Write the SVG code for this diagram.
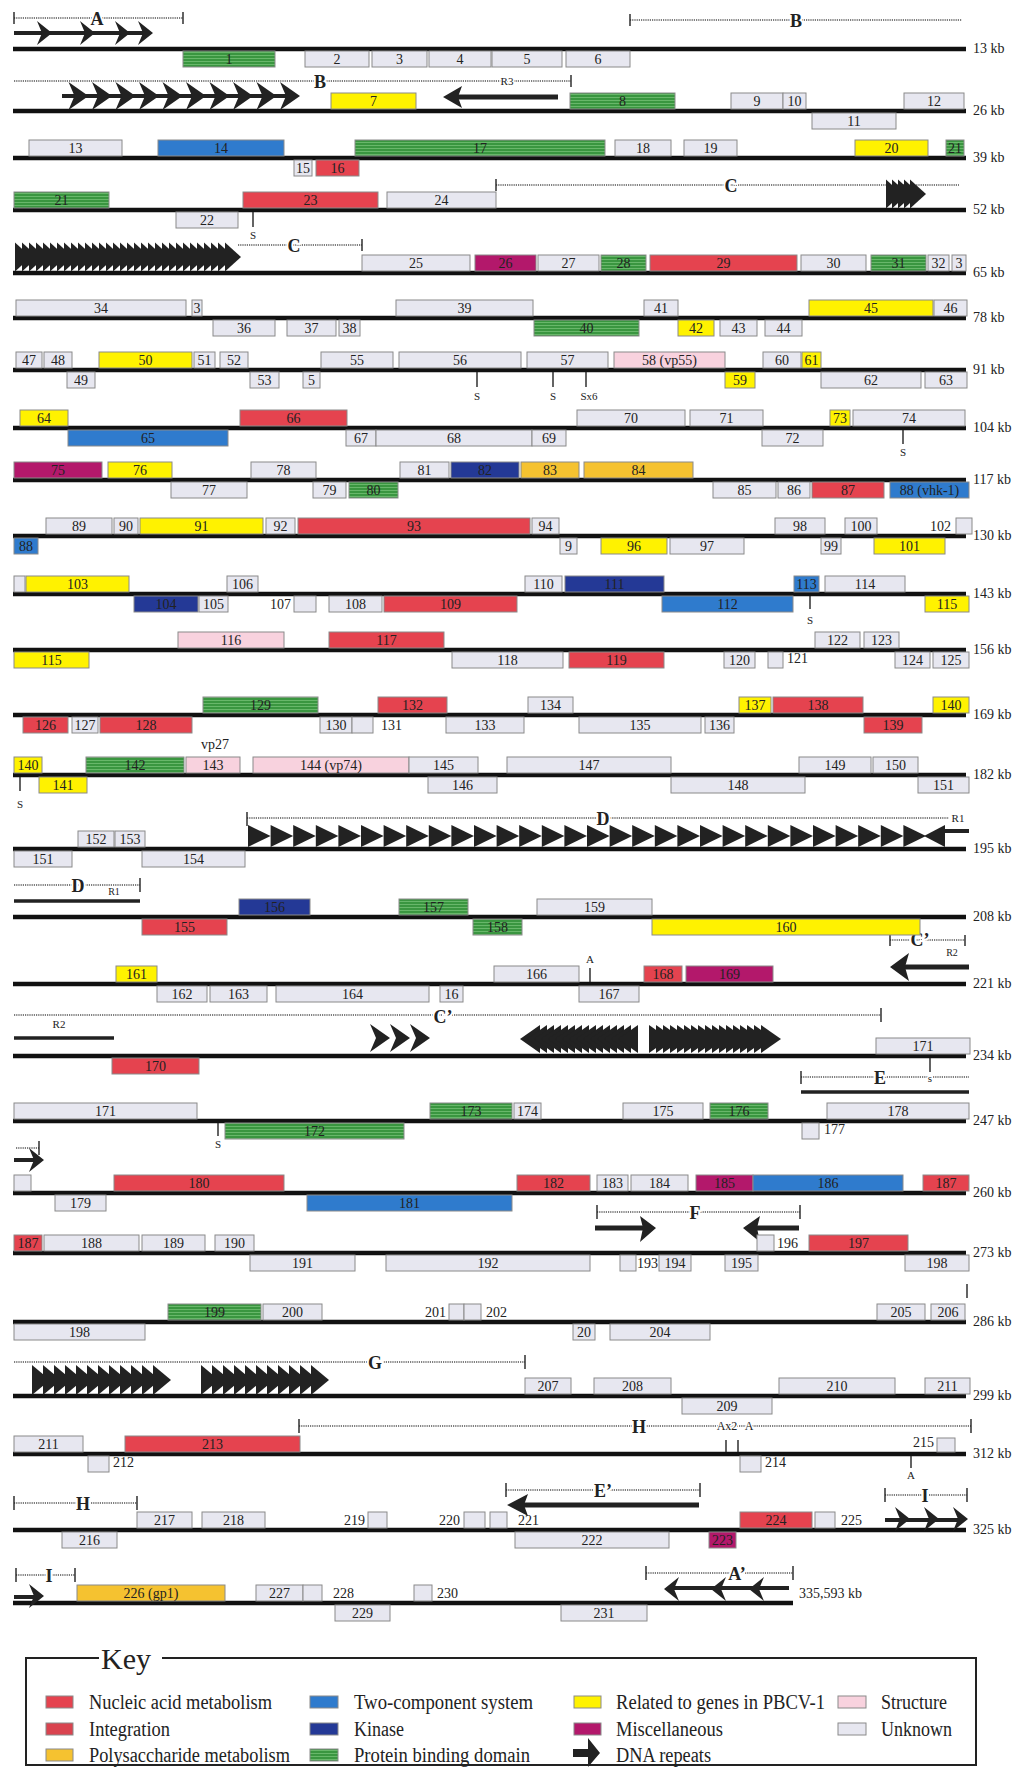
<svg xmlns="http://www.w3.org/2000/svg" xmlns:xlink="http://www.w3.org/1999/xlink" width="1017" height="1769" viewBox="0 0 1017 1769">
<style>
.ln{stroke:#111;stroke-width:4.5}
.dt{stroke:#555;stroke-width:1.6;stroke-dasharray:1.2 1;fill:none}
.tk{stroke:#222;stroke-width:1.4}
.th{stroke:#222;stroke-width:4}
.ar{fill:#222}
.b rect,#key rect{stroke:#8a8a8a;stroke-width:1}
.u{fill:#e7e7f0}.n{fill:#e5434f}.p{fill:#f5c230}.t{fill:#2f7bcd}.k{fill:#243996}.g{fill:url(#gp)}.y{fill:#fff200}.m{fill:#b3186b}.s{fill:#f8d2de}
text{font-family:"Liberation Serif",serif;fill:#222}
.l{font-size:14px;text-anchor:middle}
.ls{font-size:14px;text-anchor:start}
.le{font-size:14px;text-anchor:end}
.kb{font-size:14px}
.sm{font-size:11px;text-anchor:middle}
.rg{font-size:18px;font-weight:bold;text-anchor:middle;stroke:#fff;stroke-width:4;paint-order:stroke}
.rs{font-size:11px;text-anchor:middle;stroke:#fff;stroke-width:3;paint-order:stroke}
.key{font-size:20px}
</style>
<defs>
<pattern id="gp" width="4" height="3" patternUnits="userSpaceOnUse"><rect width="4" height="3" style="fill:#3a9640;stroke:none"/><rect y="1" width="4" height="0.8" style="fill:#74c074;stroke:none"/></pattern>
<path id="hA" d="M0,0 L-15,-12 L-10,0 L-15,12 Z"/>
<path id="hB" d="M0,0 L-20,-14 L-14,0 L-20,14 Z"/>
<path id="hL" d="M0,0 L15,-12 L10,0 L15,12 Z"/>
<path id="tC" d="M0,0 L-16,-14.5 L-16,14.5 Z"/>
<path id="tD" d="M0,0 L-22.6,-11 L-22.6,11 Z"/>
<path id="tR" d="M0,0 L-20,-14 L-20,14 Z"/>
<path id="tL" d="M0,0 L20,-14 L20,14 Z"/>
<path id="tG" d="M0,0 L-18,-15 L-18,15 Z"/>
</defs>
<rect x="0" y="0" width="1017" height="1769" style="fill:#fff;stroke:none"/>

<g id="genome-lines">
<line class="ln" x1="13" y1="49" x2="966" y2="49"/>
<line class="ln" x1="13" y1="111" x2="966" y2="111"/>
<line class="ln" x1="13" y1="158" x2="966" y2="158"/>
<line class="ln" x1="13" y1="210" x2="966" y2="210"/>
<line class="ln" x1="13" y1="273" x2="966" y2="273"/>
<line class="ln" x1="13" y1="318" x2="966" y2="318"/>
<line class="ln" x1="13" y1="370" x2="966" y2="370"/>
<line class="ln" x1="13" y1="428" x2="966" y2="428"/>
<line class="ln" x1="13" y1="480" x2="966" y2="480"/>
<line class="ln" x1="13" y1="536" x2="966" y2="536"/>
<line class="ln" x1="13" y1="594" x2="966" y2="594"/>
<line class="ln" x1="13" y1="650" x2="966" y2="650"/>
<line class="ln" x1="13" y1="715" x2="966" y2="715"/>
<line class="ln" x1="13" y1="775" x2="966" y2="775"/>
<line class="ln" x1="13" y1="849" x2="966" y2="849"/>
<line class="ln" x1="13" y1="917" x2="966" y2="917"/>
<line class="ln" x1="13" y1="984" x2="966" y2="984"/>
<line class="ln" x1="13" y1="1056" x2="966" y2="1056"/>
<line class="ln" x1="13" y1="1121" x2="966" y2="1121"/>
<line class="ln" x1="13" y1="1193" x2="966" y2="1193"/>
<line class="ln" x1="13" y1="1253" x2="966" y2="1253"/>
<line class="ln" x1="13" y1="1322" x2="966" y2="1322"/>
<line class="ln" x1="13" y1="1396" x2="966" y2="1396"/>
<line class="ln" x1="13" y1="1454" x2="966" y2="1454"/>
<line class="ln" x1="13" y1="1530" x2="966" y2="1530"/>
<line class="ln" x1="13" y1="1603" x2="793" y2="1603"/>
</g>

<g id="kb-labels" class="kb">
<text x="973" y="53">13 kb</text><text x="973" y="115">26 kb</text><text x="973" y="162">39 kb</text><text x="973" y="214">52 kb</text><text x="973" y="277">65 kb</text><text x="973" y="322">78 kb</text><text x="973" y="374">91 kb</text><text x="973" y="432">104 kb</text><text x="973" y="484">117 kb</text><text x="973" y="540">130 kb</text><text x="973" y="598">143 kb</text><text x="973" y="654">156 kb</text><text x="973" y="719">169 kb</text><text x="973" y="779">182 kb</text><text x="973" y="853">195 kb</text><text x="973" y="921">208 kb</text><text x="973" y="988">221 kb</text><text x="973" y="1060">234 kb</text><text x="973" y="1125">247 kb</text><text x="973" y="1197">260 kb</text><text x="973" y="1257">273 kb</text><text x="973" y="1326">286 kb</text><text x="973" y="1400">299 kb</text><text x="973" y="1458">312 kb</text><text x="973" y="1534">325 kb</text><text x="799" y="1598">335,593 kb</text>
</g>

<g id="repeats">
<line class="dt" x1="14" y1="18" x2="183" y2="18"/><line class="tk" x1="14" y1="12" x2="14" y2="24"/><line class="tk" x1="183" y1="12" x2="183" y2="24"/>
<text class="rg" x="97" y="25">A</text>
<line class="th" x1="14" y1="33" x2="148" y2="33"/>
<use href="#hA" x="52" y="33" class="ar"/><use href="#hA" x="95" y="33" class="ar"/><use href="#hA" x="130" y="33" class="ar"/><use href="#hA" x="153" y="33" class="ar"/>
<line class="dt" x1="630" y1="20" x2="962" y2="20"/><line class="tk" x1="630" y1="14" x2="630" y2="26"/>
<text class="rg" x="796" y="27">B</text>
<line class="dt" x1="14" y1="81" x2="571" y2="81"/><line class="tk" x1="571" y1="75" x2="571" y2="87"/>
<text class="rg" x="320" y="88">B</text><text class="rs" x="507" y="85">R3</text>
<line class="th" x1="62" y1="96" x2="296" y2="96"/>
<use href="#hB" x="300" y="96" class="ar"/><use href="#hB" x="276.5" y="96" class="ar"/><use href="#hB" x="253" y="96" class="ar"/><use href="#hB" x="229.5" y="96" class="ar"/><use href="#hB" x="206" y="96" class="ar"/><use href="#hB" x="182.5" y="96" class="ar"/><use href="#hB" x="159" y="96" class="ar"/><use href="#hB" x="135.5" y="96" class="ar"/><use href="#hB" x="112" y="96" class="ar"/><use href="#hB" x="88.5" y="96" class="ar"/>
<polygon class="ar" points="443,97 462,86 458,97 462,108"/><line class="th" x1="456" y1="97" x2="558" y2="97" style="stroke-width:5"/>
<line class="dt" x1="496" y1="185" x2="959" y2="185"/><line class="tk" x1="496" y1="179" x2="496" y2="191"/>
<text class="rg" x="731" y="192">C</text>
<g class="ar"><use href="#tC" x="902" y="194"/><use href="#tC" x="908" y="194"/><use href="#tC" x="914" y="194"/><use href="#tC" x="920" y="194"/><use href="#tC" x="926" y="194"/></g>
<g class="ar">
<use href="#tC" x="31" y="257"/><use href="#tC" x="38" y="257"/><use href="#tC" x="45" y="257"/><use href="#tC" x="52" y="257"/><use href="#tC" x="59" y="257"/><use href="#tC" x="66" y="257"/><use href="#tC" x="73" y="257"/><use href="#tC" x="80" y="257"/><use href="#tC" x="87" y="257"/><use href="#tC" x="94" y="257"/><use href="#tC" x="101" y="257"/><use href="#tC" x="108" y="257"/><use href="#tC" x="115" y="257"/><use href="#tC" x="122" y="257"/><use href="#tC" x="129" y="257"/><use href="#tC" x="136" y="257"/><use href="#tC" x="143" y="257"/><use href="#tC" x="150" y="257"/><use href="#tC" x="157" y="257"/><use href="#tC" x="164" y="257"/><use href="#tC" x="171" y="257"/><use href="#tC" x="178" y="257"/><use href="#tC" x="185" y="257"/><use href="#tC" x="192" y="257"/><use href="#tC" x="199" y="257"/><use href="#tC" x="206" y="257"/><use href="#tC" x="213" y="257"/><use href="#tC" x="220" y="257"/><use href="#tC" x="227" y="257"/><use href="#tC" x="234" y="257"/><use href="#tC" x="241" y="257"/>
</g>
<line class="dt" x1="238" y1="245" x2="362" y2="245"/><line class="tk" x1="362" y1="239" x2="362" y2="251"/>
<text class="rg" x="294" y="252">C</text>
<line class="dt" x1="247" y1="818" x2="949" y2="818"/><line class="tk" x1="247" y1="812" x2="247" y2="826"/>
<text class="rg" x="603" y="825">D</text><text class="rs" x="958" y="822">R1</text>
<g class="ar">
<use href="#tD" x="270.6" y="836"/><use href="#tD" x="293.2" y="836"/><use href="#tD" x="315.8" y="836"/><use href="#tD" x="338.4" y="836"/><use href="#tD" x="361" y="836"/><use href="#tD" x="383.6" y="836"/><use href="#tD" x="406.2" y="836"/><use href="#tD" x="428.8" y="836"/><use href="#tD" x="451.4" y="836"/><use href="#tD" x="474" y="836"/><use href="#tD" x="496.6" y="836"/><use href="#tD" x="519.2" y="836"/><use href="#tD" x="541.8" y="836"/><use href="#tD" x="564.4" y="836"/><use href="#tD" x="587" y="836"/><use href="#tD" x="609.6" y="836"/><use href="#tD" x="632.2" y="836"/><use href="#tD" x="654.8" y="836"/><use href="#tD" x="677.4" y="836"/><use href="#tD" x="700" y="836"/><use href="#tD" x="722.6" y="836"/><use href="#tD" x="745.2" y="836"/><use href="#tD" x="767.8" y="836"/><use href="#tD" x="790.4" y="836"/><use href="#tD" x="813" y="836"/><use href="#tD" x="835.6" y="836"/><use href="#tD" x="858.2" y="836"/><use href="#tD" x="880.8" y="836"/><use href="#tD" x="903.4" y="836"/><use href="#tD" x="926" y="836"/>
<polygon points="924,836 945,825 945,847"/>
</g>
<line class="th" x1="940" y1="831" x2="969" y2="831"/>
<line class="dt" x1="14" y1="885" x2="140" y2="885"/><line class="tk" x1="140" y1="878" x2="140" y2="892"/>
<text class="rg" x="78" y="892">D</text><text class="rs" x="114" y="895" style="font-size:10px">R1</text>
<line class="th" x1="14" y1="901" x2="140" y2="901" style="stroke-width:3.5"/>
<line class="dt" x1="890" y1="940" x2="965" y2="940"/><line class="tk" x1="890" y1="935" x2="890" y2="946"/><line class="tk" x1="965" y1="935" x2="965" y2="946"/>
<text class="rg" x="920" y="946">C’</text><text class="rs" x="952" y="956" style="font-size:10px">R2</text>
<polygon class="ar" points="890,967 909,953 905,967 909,981"/><line class="th" x1="905" y1="967" x2="969" y2="967" style="stroke-width:5"/>
<line class="dt" x1="14" y1="1015" x2="881" y2="1015"/><line class="tk" x1="881" y1="1008" x2="881" y2="1022"/>
<text class="rg" x="443" y="1023">C’</text>
<text class="rs" x="59" y="1028">R2</text>
<line class="th" x1="14" y1="1038" x2="114" y2="1038" style="stroke-width:3.5"/>
<g class="ar"><use href="#hB" x="390" y="1038"/><use href="#hB" x="410" y="1038"/><use href="#hB" x="430" y="1038"/></g>
<g class="ar">
<use href="#tL" x="520" y="1039"/><use href="#tL" x="527" y="1039"/><use href="#tL" x="534" y="1039"/><use href="#tL" x="541" y="1039"/><use href="#tL" x="548" y="1039"/><use href="#tL" x="555" y="1039"/><use href="#tL" x="562" y="1039"/><use href="#tL" x="569" y="1039"/><use href="#tL" x="576" y="1039"/><use href="#tL" x="583" y="1039"/><use href="#tL" x="590" y="1039"/><use href="#tL" x="597" y="1039"/><use href="#tL" x="604" y="1039"/><use href="#tL" x="611" y="1039"/><use href="#tL" x="618" y="1039"/>
<use href="#tR" x="669" y="1039"/><use href="#tR" x="676" y="1039"/><use href="#tR" x="683" y="1039"/><use href="#tR" x="690" y="1039"/><use href="#tR" x="697" y="1039"/><use href="#tR" x="704" y="1039"/><use href="#tR" x="711" y="1039"/><use href="#tR" x="718" y="1039"/><use href="#tR" x="725" y="1039"/><use href="#tR" x="732" y="1039"/><use href="#tR" x="739" y="1039"/><use href="#tR" x="746" y="1039"/><use href="#tR" x="753" y="1039"/><use href="#tR" x="760" y="1039"/><use href="#tR" x="767" y="1039"/><use href="#tR" x="774" y="1039"/><use href="#tR" x="781" y="1039"/>
</g>
<line class="dt" x1="801" y1="1077" x2="969" y2="1077"/><line class="tk" x1="801" y1="1071" x2="801" y2="1084"/>
<text class="rg" x="880" y="1084">E</text><text class="rs" x="930" y="1082">s</text>
<line class="th" x1="801" y1="1092" x2="969" y2="1092" style="stroke-width:3.5"/>
<line class="dt" x1="16" y1="1148" x2="39" y2="1148"/><line class="tk" x1="39" y1="1141" x2="39" y2="1155"/>
<line class="th" x1="14" y1="1160" x2="36" y2="1160"/><use href="#hA" x="44" y="1160" class="ar"/>
<line class="dt" x1="597" y1="1212" x2="800" y2="1212"/><line class="tk" x1="597" y1="1205" x2="597" y2="1219"/><line class="tk" x1="800" y1="1205" x2="800" y2="1219"/>
<text class="rg" x="695" y="1219">F</text>
<line class="th" x1="595" y1="1228" x2="644" y2="1228" style="stroke-width:5"/><polygon class="ar" points="656,1228 640,1216 643,1228 640,1242"/>
<polygon class="ar" points="743,1228 760,1216 757,1228 760,1242"/><line class="th" x1="756" y1="1228" x2="799" y2="1228" style="stroke-width:5"/>
<line class="tk" x1="967" y1="1284" x2="967" y2="1298"/>
<line class="dt" x1="14" y1="1362" x2="525" y2="1362"/><line class="tk" x1="525" y1="1355" x2="525" y2="1369"/>
<text class="rg" x="375" y="1369">G</text>
<g class="ar">
<use href="#tG" x="50" y="1380"/><use href="#tG" x="61" y="1380"/><use href="#tG" x="72" y="1380"/><use href="#tG" x="83" y="1380"/><use href="#tG" x="94" y="1380"/><use href="#tG" x="105" y="1380"/><use href="#tG" x="116" y="1380"/><use href="#tG" x="127" y="1380"/><use href="#tG" x="138" y="1380"/><use href="#tG" x="149" y="1380"/><use href="#tG" x="160" y="1380"/><use href="#tG" x="171" y="1380"/>
<use href="#tG" x="219" y="1380"/><use href="#tG" x="230" y="1380"/><use href="#tG" x="241" y="1380"/><use href="#tG" x="252" y="1380"/><use href="#tG" x="263" y="1380"/><use href="#tG" x="274" y="1380"/><use href="#tG" x="285" y="1380"/><use href="#tG" x="296" y="1380"/><use href="#tG" x="307" y="1380"/><use href="#tG" x="318" y="1380"/><use href="#tG" x="329" y="1380"/>
</g>
<line class="dt" x1="299" y1="1426" x2="971" y2="1426"/><line class="tk" x1="299" y1="1419" x2="299" y2="1433"/><line class="tk" x1="971" y1="1419" x2="971" y2="1433"/>
<text class="rg" x="639" y="1433">H</text><text class="rs" x="727" y="1430" style="font-size:12px">Ax2</text><text class="rs" x="749" y="1430" style="font-size:12px">A</text>
<line class="dt" x1="14" y1="1503" x2="137" y2="1503"/><line class="tk" x1="14" y1="1496" x2="14" y2="1510"/><line class="tk" x1="137" y1="1496" x2="137" y2="1510"/>
<text class="rg" x="83" y="1510">H</text>
<line class="dt" x1="506" y1="1490" x2="700" y2="1490"/><line class="tk" x1="506" y1="1483" x2="506" y2="1497"/><line class="tk" x1="700" y1="1483" x2="700" y2="1497"/>
<text class="rg" x="603" y="1497">E’</text>
<polygon class="ar" points="507,1505 528,1494 524,1505 528,1516"/><line class="th" x1="523" y1="1505" x2="699" y2="1505" style="stroke-width:5"/>
<line class="dt" x1="885" y1="1495" x2="967" y2="1495"/><line class="tk" x1="885" y1="1488" x2="885" y2="1502"/><line class="tk" x1="967" y1="1488" x2="967" y2="1502"/>
<text class="rg" x="925" y="1502">I</text>
<line class="th" x1="885" y1="1520" x2="962" y2="1520"/>
<g class="ar"><use href="#hA" x="910" y="1519"/><use href="#hA" x="939" y="1519"/><use href="#hA" x="968" y="1519"/></g>
<line class="dt" x1="16" y1="1575" x2="75" y2="1575"/><line class="tk" x1="16" y1="1568" x2="16" y2="1582"/><line class="tk" x1="75" y1="1568" x2="75" y2="1582"/>
<text class="rg" x="49" y="1582">I</text>
<line class="th" x1="14" y1="1597" x2="36" y2="1597"/><use href="#hA" x="44" y="1596" class="ar"/>
<line class="dt" x1="646" y1="1573" x2="793" y2="1573"/><line class="tk" x1="646" y1="1566" x2="646" y2="1580"/><line class="tk" x1="793" y1="1566" x2="793" y2="1580"/>
<text class="rg" x="737" y="1580">A’</text>
<line class="th" x1="668" y1="1588" x2="789" y2="1588"/>
<g class="ar"><use href="#hL" x="664" y="1589"/><use href="#hL" x="711" y="1589"/><use href="#hL" x="749" y="1589"/></g>
</g>

<g id="markers">
<line class="tk" x1="253" y1="212" x2="253" y2="227"/><text class="sm" x="253" y="239">S</text>
<line class="tk" x1="477" y1="372" x2="477" y2="387"/><text class="sm" x="477" y="400">S</text>
<line class="tk" x1="553" y1="372" x2="553" y2="387"/><text class="sm" x="553" y="400">S</text>
<line class="tk" x1="586" y1="372" x2="586" y2="387"/><text class="sm" x="589" y="400">Sx6</text>
<line class="tk" x1="903" y1="430" x2="903" y2="444"/><text class="sm" x="903" y="456">S</text>
<line class="tk" x1="810" y1="596" x2="810" y2="609"/><text class="sm" x="810" y="624">S</text>
<line class="tk" x1="20" y1="777" x2="20" y2="791"/><text class="sm" x="20" y="808">S</text>
<text class="l" x="215" y="749">vp27</text>
<line class="tk" x1="590" y1="968" x2="590" y2="982"/><text class="sm" x="590" y="963">A</text>
<line class="tk" x1="930" y1="1058" x2="930" y2="1072"/>
<line class="tk" x1="218" y1="1123" x2="218" y2="1136"/><text class="sm" x="218" y="1148">S</text>
<line class="tk" x1="726" y1="1440" x2="726" y2="1452"/><line class="tk" x1="738" y1="1440" x2="738" y2="1452"/>
<line class="tk" x1="911" y1="1456" x2="911" y2="1468"/><text class="sm" x="911" y="1479">A</text>
</g>

<g id="genes" class="b">
<g id="gene-1"><rect class="g" x="183" y="51" width="92" height="16"/><text class="l" x="229" y="64">1</text></g>
<g id="gene-2"><rect class="u" x="305" y="51" width="64" height="16"/><text class="l" x="337" y="64">2</text></g>
<g id="gene-3"><rect class="u" x="372" y="51" width="55" height="16"/><text class="l" x="399.5" y="64">3</text></g>
<g id="gene-4"><rect class="u" x="429" y="51" width="62" height="16"/><text class="l" x="460" y="64">4</text></g>
<g id="gene-5"><rect class="u" x="492" y="51" width="70" height="16"/><text class="l" x="527" y="64">5</text></g>
<g id="gene-6"><rect class="u" x="566" y="51" width="64" height="16"/><text class="l" x="598" y="64">6</text></g>

<g id="gene-7"><rect class="y" x="331" y="93" width="85" height="16"/><text class="l" x="373.5" y="106">7</text></g>
<g id="gene-8"><rect class="g" x="570" y="93" width="105" height="16"/><text class="l" x="622.5" y="106">8</text></g>
<g id="gene-9"><rect class="u" x="731" y="93" width="52" height="16"/><text class="l" x="757" y="106">9</text></g>
<g id="gene-10"><rect class="u" x="783" y="93" width="23" height="16"/><text class="l" x="794.5" y="106">10</text></g>
<g id="gene-12"><rect class="u" x="904" y="93" width="60" height="16"/><text class="l" x="934" y="106">12</text></g>
<g id="gene-11"><rect class="u" x="812" y="113" width="84" height="16"/><text class="l" x="854" y="126">11</text></g>

<g id="gene-13"><rect class="u" x="29" y="140" width="93" height="16"/><text class="l" x="75.5" y="153">13</text></g>
<g id="gene-14"><rect class="t" x="158" y="140" width="126" height="16"/><text class="l" x="221" y="153">14</text></g>
<g id="gene-17"><rect class="g" x="355" y="140" width="250" height="16"/><text class="l" x="480" y="153">17</text></g>
<g id="gene-18"><rect class="u" x="615" y="140" width="56" height="16"/><text class="l" x="643" y="153">18</text></g>
<g id="gene-19"><rect class="u" x="684" y="140" width="53" height="16"/><text class="l" x="710.5" y="153">19</text></g>
<g id="gene-20"><rect class="y" x="855" y="140" width="73" height="16"/><text class="l" x="891.5" y="153">20</text></g>
<g id="gene-21a"><rect class="g" x="946" y="140" width="18" height="16"/><text class="l" x="955" y="153">21</text></g>
<g id="gene-15"><rect class="u" x="294" y="160" width="18" height="16"/><text class="l" x="303" y="173">15</text></g>
<g id="gene-16"><rect class="n" x="316" y="160" width="43" height="16"/><text class="l" x="337.5" y="173">16</text></g>

<g id="gene-21b"><rect class="g" x="14" y="192" width="95" height="16"/><text class="l" x="61.5" y="205">21</text></g>
<g id="gene-23"><rect class="n" x="243" y="192" width="135" height="16"/><text class="l" x="310.5" y="205">23</text></g>
<g id="gene-24"><rect class="u" x="387" y="192" width="109" height="16"/><text class="l" x="441.5" y="205">24</text></g>
<g id="gene-22"><rect class="u" x="176" y="212" width="62" height="16"/><text class="l" x="207" y="225">22</text></g>

<g id="gene-25"><rect class="u" x="362" y="255" width="108" height="16"/><text class="l" x="416" y="268">25</text></g>
<g id="gene-26"><rect class="m" x="475" y="255" width="61" height="16"/><text class="l" x="505.5" y="268">26</text></g>
<g id="gene-27"><rect class="u" x="538" y="255" width="61" height="16"/><text class="l" x="568.5" y="268">27</text></g>
<g id="gene-28"><rect class="g" x="601" y="255" width="45" height="16"/><text class="l" x="623.5" y="268">28</text></g>
<g id="gene-29"><rect class="n" x="650" y="255" width="147" height="16"/><text class="l" x="723.5" y="268">29</text></g>
<g id="gene-30"><rect class="u" x="801" y="255" width="65" height="16"/><text class="l" x="833.5" y="268">30</text></g>
<g id="gene-31"><rect class="g" x="871" y="255" width="55" height="16"/><text class="l" x="898.5" y="268">31</text></g>
<g id="gene-32"><rect class="u" x="928" y="255" width="21" height="16"/><text class="l" x="938.5" y="268">32</text></g>
<g id="gene-33"><rect class="u" x="952" y="255" width="14" height="16"/><text class="l" x="959" y="268">3</text></g>

<g id="gene-34"><rect class="u" x="16" y="300" width="170" height="16"/><text class="l" x="101" y="313">34</text></g>
<g id="gene-35"><rect class="u" x="192" y="300" width="10" height="16"/><text class="l" x="197" y="313">3</text></g>
<g id="gene-39"><rect class="u" x="396" y="300" width="137" height="16"/><text class="l" x="464.5" y="313">39</text></g>
<g id="gene-41"><rect class="u" x="644" y="300" width="34" height="16"/><text class="l" x="661" y="313">41</text></g>
<g id="gene-45"><rect class="y" x="809" y="300" width="124" height="16"/><text class="l" x="871" y="313">45</text></g>
<g id="gene-46"><rect class="u" x="934" y="300" width="33" height="16"/><text class="l" x="950.5" y="313">46</text></g>
<g id="gene-36"><rect class="u" x="213" y="320" width="62" height="16"/><text class="l" x="244" y="333">36</text></g>
<g id="gene-37"><rect class="u" x="287" y="320" width="49" height="16"/><text class="l" x="311.5" y="333">37</text></g>
<g id="gene-38"><rect class="u" x="339" y="320" width="21" height="16"/><text class="l" x="349.5" y="333">38</text></g>
<g id="gene-40"><rect class="g" x="534" y="320" width="105" height="16"/><text class="l" x="586.5" y="333">40</text></g>
<g id="gene-42"><rect class="y" x="678" y="320" width="36" height="16"/><text class="l" x="696" y="333">42</text></g>
<g id="gene-43"><rect class="u" x="720" y="320" width="37" height="16"/><text class="l" x="738.5" y="333">43</text></g>
<g id="gene-44"><rect class="u" x="765" y="320" width="37" height="16"/><text class="l" x="783.5" y="333">44</text></g>

<g id="gene-47"><rect class="u" x="16" y="352" width="26" height="16"/><text class="l" x="29" y="365">47</text></g>
<g id="gene-48"><rect class="u" x="44" y="352" width="28" height="16"/><text class="l" x="58" y="365">48</text></g>
<g id="gene-50"><rect class="y" x="99" y="352" width="93" height="16"/><text class="l" x="145.5" y="365">50</text></g>
<g id="gene-51"><rect class="u" x="194" y="352" width="21" height="16"/><text class="l" x="204.5" y="365">51</text></g>
<g id="gene-52"><rect class="u" x="220" y="352" width="28" height="16"/><text class="l" x="234" y="365">52</text></g>
<g id="gene-55"><rect class="u" x="321" y="352" width="72" height="16"/><text class="l" x="357" y="365">55</text></g>
<g id="gene-56"><rect class="u" x="399" y="352" width="122" height="16"/><text class="l" x="460" y="365">56</text></g>
<g id="gene-57"><rect class="u" x="527" y="352" width="81" height="16"/><text class="l" x="567.5" y="365">57</text></g>
<g id="gene-58"><rect class="s" x="614" y="352" width="111" height="16"/><text class="l" x="669.5" y="365">58 (vp55)</text></g>
<g id="gene-60"><rect class="u" x="763" y="352" width="38" height="16"/><text class="l" x="782" y="365">60</text></g>
<g id="gene-61"><rect class="y" x="802" y="352" width="19" height="16"/><text class="l" x="811.5" y="365">61</text></g>
<g id="gene-49"><rect class="u" x="67" y="372" width="28" height="16"/><text class="l" x="81" y="385">49</text></g>
<g id="gene-53"><rect class="u" x="250" y="372" width="29" height="16"/><text class="l" x="264.5" y="385">53</text></g>
<g id="gene-54"><rect class="u" x="303" y="372" width="17" height="16"/><text class="l" x="311.5" y="385">5</text></g>
<g id="gene-59"><rect class="y" x="725" y="372" width="30" height="16"/><text class="l" x="740" y="385">59</text></g>
<g id="gene-62"><rect class="u" x="821" y="372" width="100" height="16"/><text class="l" x="871" y="385">62</text></g>
<g id="gene-63"><rect class="u" x="925" y="372" width="42" height="16"/><text class="l" x="946" y="385">63</text></g>

<g id="gene-64"><rect class="y" x="20" y="410" width="48" height="16"/><text class="l" x="44" y="423">64</text></g>
<g id="gene-66"><rect class="n" x="240" y="410" width="107" height="16"/><text class="l" x="293.5" y="423">66</text></g>
<g id="gene-70"><rect class="u" x="577" y="410" width="108" height="16"/><text class="l" x="631" y="423">70</text></g>
<g id="gene-71"><rect class="u" x="690" y="410" width="73" height="16"/><text class="l" x="726.5" y="423">71</text></g>
<g id="gene-73"><rect class="y" x="830" y="410" width="20" height="16"/><text class="l" x="840" y="423">73</text></g>
<g id="gene-74"><rect class="u" x="853" y="410" width="112" height="16"/><text class="l" x="909" y="423">74</text></g>
<g id="gene-65"><rect class="t" x="68" y="430" width="160" height="16"/><text class="l" x="148" y="443">65</text></g>
<g id="gene-67"><rect class="u" x="346" y="430" width="30" height="16"/><text class="l" x="361" y="443">67</text></g>
<g id="gene-68"><rect class="u" x="376" y="430" width="156" height="16"/><text class="l" x="454" y="443">68</text></g>
<g id="gene-69"><rect class="u" x="532" y="430" width="34" height="16"/><text class="l" x="549" y="443">69</text></g>
<g id="gene-72"><rect class="u" x="762" y="430" width="61" height="16"/><text class="l" x="792.5" y="443">72</text></g>

<g id="gene-75"><rect class="m" x="14" y="462" width="88" height="16"/><text class="l" x="58" y="475">75</text></g>
<g id="gene-76"><rect class="y" x="108" y="462" width="64" height="16"/><text class="l" x="140" y="475">76</text></g>
<g id="gene-78"><rect class="u" x="251" y="462" width="65" height="16"/><text class="l" x="283.5" y="475">78</text></g>
<g id="gene-81"><rect class="u" x="400" y="462" width="49" height="16"/><text class="l" x="424.5" y="475">81</text></g>
<g id="gene-82"><rect class="k" x="451" y="462" width="68" height="16"/><text class="l" x="485" y="475">82</text></g>
<g id="gene-83"><rect class="p" x="521" y="462" width="58" height="16"/><text class="l" x="550" y="475">83</text></g>
<g id="gene-84"><rect class="p" x="584" y="462" width="109" height="16"/><text class="l" x="638.5" y="475">84</text></g>
<g id="gene-77"><rect class="u" x="171" y="482" width="76" height="16"/><text class="l" x="209" y="495">77</text></g>
<g id="gene-79"><rect class="u" x="313" y="482" width="33" height="16"/><text class="l" x="329.5" y="495">79</text></g>
<g id="gene-80"><rect class="g" x="349" y="482" width="49" height="16"/><text class="l" x="373.5" y="495">80</text></g>
<g id="gene-85"><rect class="u" x="713" y="482" width="63" height="16"/><text class="l" x="744.5" y="495">85</text></g>
<g id="gene-86"><rect class="u" x="778" y="482" width="32" height="16"/><text class="l" x="794" y="495">86</text></g>
<g id="gene-87"><rect class="n" x="812" y="482" width="72" height="16"/><text class="l" x="848" y="495">87</text></g>
<g id="gene-88a"><rect class="t" x="890" y="482" width="79" height="16"/><text class="l" x="929.5" y="495">88 (vhk-1)</text></g>

<g id="gene-89"><rect class="u" x="46" y="518" width="66" height="16"/><text class="l" x="79" y="531">89</text></g>
<g id="gene-90"><rect class="u" x="114" y="518" width="24" height="16"/><text class="l" x="126" y="531">90</text></g>
<g id="gene-91"><rect class="y" x="140" y="518" width="123" height="16"/><text class="l" x="201.5" y="531">91</text></g>
<g id="gene-92"><rect class="u" x="266" y="518" width="29" height="16"/><text class="l" x="280.5" y="531">92</text></g>
<g id="gene-93"><rect class="n" x="298" y="518" width="232" height="16"/><text class="l" x="414" y="531">93</text></g>
<g id="gene-94"><rect class="u" x="532" y="518" width="27" height="16"/><text class="l" x="545.5" y="531">94</text></g>
<g id="gene-98"><rect class="u" x="775" y="518" width="50" height="16"/><text class="l" x="800" y="531">98</text></g>
<g id="gene-100"><rect class="u" x="845" y="518" width="32" height="16"/><text class="l" x="861" y="531">100</text></g>
<g id="gene-102"><rect class="u" x="956" y="518" width="16" height="16"/><text class="le" x="951" y="531">102</text></g>
<g id="gene-88b"><rect class="t" x="14" y="538" width="24" height="16"/><text class="l" x="26" y="551">88</text></g>
<g id="gene-95"><rect class="u" x="560" y="538" width="17" height="16"/><text class="l" x="568.5" y="551">9</text></g>
<g id="gene-96"><rect class="y" x="601" y="538" width="66" height="16"/><text class="l" x="634" y="551">96</text></g>
<g id="gene-97"><rect class="u" x="670" y="538" width="74" height="16"/><text class="l" x="707" y="551">97</text></g>
<g id="gene-99"><rect class="u" x="821" y="538" width="20" height="16"/><text class="l" x="831" y="551">99</text></g>
<g id="gene-101"><rect class="y" x="874" y="538" width="71" height="16"/><text class="l" x="909.5" y="551">101</text></g>

<g id="gene-102b"><rect class="u" x="14" y="576" width="11" height="16"/></g>
<g id="gene-103"><rect class="y" x="26" y="576" width="103" height="16"/><text class="l" x="77.5" y="589">103</text></g>
<g id="gene-106"><rect class="u" x="227" y="576" width="31" height="16"/><text class="l" x="242.5" y="589">106</text></g>
<g id="gene-110"><rect class="u" x="525" y="576" width="37" height="16"/><text class="l" x="543.5" y="589">110</text></g>
<g id="gene-111"><rect class="k" x="565" y="576" width="99" height="16"/><text class="l" x="614.5" y="589">111</text></g>
<g id="gene-113"><rect class="t" x="794" y="576" width="25" height="16"/><text class="l" x="806.5" y="589">113</text></g>
<g id="gene-114"><rect class="u" x="825" y="576" width="80" height="16"/><text class="l" x="865" y="589">114</text></g>
<g id="gene-104"><rect class="k" x="134" y="596" width="64" height="16"/><text class="l" x="166" y="609">104</text></g>
<g id="gene-105"><rect class="u" x="199" y="596" width="29" height="16"/><text class="l" x="213.5" y="609">105</text></g>
<g id="gene-107"><rect class="u" x="294" y="596" width="22" height="16"/><text class="le" x="291" y="609">107</text></g>
<g id="gene-108"><rect class="u" x="329" y="596" width="53" height="16"/><text class="l" x="355.5" y="609">108</text></g>
<g id="gene-109"><rect class="n" x="384" y="596" width="133" height="16"/><text class="l" x="450.5" y="609">109</text></g>
<g id="gene-112"><rect class="t" x="662" y="596" width="131" height="16"/><text class="l" x="727.5" y="609">112</text></g>
<g id="gene-115a"><rect class="y" x="925" y="596" width="44" height="16"/><text class="l" x="947" y="609">115</text></g>

<g id="gene-116"><rect class="s" x="178" y="632" width="106" height="16"/><text class="l" x="231" y="645">116</text></g>
<g id="gene-117"><rect class="n" x="329" y="632" width="115" height="16"/><text class="l" x="386.5" y="645">117</text></g>
<g id="gene-122"><rect class="u" x="815" y="632" width="45" height="16"/><text class="l" x="837.5" y="645">122</text></g>
<g id="gene-123"><rect class="u" x="864" y="632" width="35" height="16"/><text class="l" x="881.5" y="645">123</text></g>
<g id="gene-115b"><rect class="y" x="14" y="652" width="75" height="16"/><text class="l" x="51.5" y="665">115</text></g>
<g id="gene-118"><rect class="u" x="452" y="652" width="111" height="16"/><text class="l" x="507.5" y="665">118</text></g>
<g id="gene-119"><rect class="n" x="569" y="652" width="95" height="16"/><text class="l" x="616.5" y="665">119</text></g>
<g id="gene-120"><rect class="u" x="724" y="652" width="31" height="16"/><text class="l" x="739.5" y="665">120</text></g>
<g id="gene-121"><rect class="u" x="768" y="652" width="15" height="16"/><text class="ls" x="787" y="663">121</text></g>
<g id="gene-124"><rect class="u" x="895" y="652" width="35" height="16"/><text class="l" x="912.5" y="665">124</text></g>
<g id="gene-125"><rect class="u" x="933" y="652" width="36" height="16"/><text class="l" x="951" y="665">125</text></g>

<g id="gene-129"><rect class="g" x="203" y="697" width="115" height="16"/><text class="l" x="260.5" y="710">129</text></g>
<g id="gene-132"><rect class="n" x="378" y="697" width="69" height="16"/><text class="l" x="412.5" y="710">132</text></g>
<g id="gene-134"><rect class="u" x="528" y="697" width="45" height="16"/><text class="l" x="550.5" y="710">134</text></g>
<g id="gene-137"><rect class="y" x="739" y="697" width="32" height="16"/><text class="l" x="755" y="710">137</text></g>
<g id="gene-138"><rect class="n" x="773" y="697" width="90" height="16"/><text class="l" x="818" y="710">138</text></g>
<g id="gene-140a"><rect class="y" x="933" y="697" width="36" height="16"/><text class="l" x="951" y="710">140</text></g>
<g id="gene-126"><rect class="n" x="23" y="717" width="45" height="16"/><text class="l" x="45.5" y="730">126</text></g>
<g id="gene-127"><rect class="u" x="72" y="717" width="26" height="16"/><text class="l" x="85" y="730">127</text></g>
<g id="gene-128"><rect class="n" x="100" y="717" width="92" height="16"/><text class="l" x="146" y="730">128</text></g>
<g id="gene-130"><rect class="u" x="320" y="717" width="32" height="16"/><text class="l" x="336" y="730">130</text></g>
<g id="gene-131"><rect class="u" x="352" y="717" width="21" height="16"/><text class="ls" x="381" y="730">131</text></g>
<g id="gene-133"><rect class="u" x="446" y="717" width="78" height="16"/><text class="l" x="485" y="730">133</text></g>
<g id="gene-135"><rect class="u" x="579" y="717" width="122" height="16"/><text class="l" x="640" y="730">135</text></g>
<g id="gene-136"><rect class="u" x="705" y="717" width="29" height="16"/><text class="l" x="719.5" y="730">136</text></g>
<g id="gene-139"><rect class="n" x="864" y="717" width="58" height="16"/><text class="l" x="893" y="730">139</text></g>

<g id="gene-140b"><rect class="y" x="14" y="757" width="28" height="16"/><text class="l" x="28" y="770">140</text></g>
<g id="gene-142"><rect class="g" x="86" y="757" width="98" height="16"/><text class="l" x="135" y="770">142</text></g>
<g id="gene-143"><rect class="s" x="186" y="757" width="54" height="16"/><text class="l" x="213" y="770">143</text></g>
<g id="gene-144"><rect class="s" x="253" y="757" width="156" height="16"/><text class="l" x="331" y="770">144 (vp74)</text></g>
<g id="gene-145"><rect class="u" x="409" y="757" width="69" height="16"/><text class="l" x="443.5" y="770">145</text></g>
<g id="gene-147"><rect class="u" x="507" y="757" width="164" height="16"/><text class="l" x="589" y="770">147</text></g>
<g id="gene-149"><rect class="u" x="799" y="757" width="72" height="16"/><text class="l" x="835" y="770">149</text></g>
<g id="gene-150"><rect class="u" x="873" y="757" width="45" height="16"/><text class="l" x="895.5" y="770">150</text></g>
<g id="gene-141"><rect class="y" x="39" y="777" width="48" height="16"/><text class="l" x="63" y="790">141</text></g>
<g id="gene-146"><rect class="u" x="428" y="777" width="69" height="16"/><text class="l" x="462.5" y="790">146</text></g>
<g id="gene-148"><rect class="u" x="671" y="777" width="134" height="16"/><text class="l" x="738" y="790">148</text></g>
<g id="gene-151a"><rect class="u" x="918" y="777" width="51" height="16"/><text class="l" x="943.5" y="790">151</text></g>

<g id="gene-152"><rect class="u" x="78" y="831" width="36" height="16"/><text class="l" x="96" y="844">152</text></g>
<g id="gene-153"><rect class="u" x="115" y="831" width="30" height="16"/><text class="l" x="130" y="844">153</text></g>
<g id="gene-151b"><rect class="u" x="14" y="851" width="58" height="16"/><text class="l" x="43" y="864">151</text></g>
<g id="gene-154"><rect class="u" x="142" y="851" width="103" height="16"/><text class="l" x="193.5" y="864">154</text></g>

<g id="gene-156"><rect class="k" x="239" y="899" width="71" height="16"/><text class="l" x="274.5" y="912">156</text></g>
<g id="gene-157"><rect class="g" x="399" y="899" width="69" height="16"/><text class="l" x="433.5" y="912">157</text></g>
<g id="gene-159"><rect class="u" x="537" y="899" width="115" height="16"/><text class="l" x="594.5" y="912">159</text></g>
<g id="gene-155"><rect class="n" x="142" y="919" width="85" height="16"/><text class="l" x="184.5" y="932">155</text></g>
<g id="gene-158"><rect class="g" x="473" y="919" width="49" height="16"/><text class="l" x="497.5" y="932">158</text></g>
<g id="gene-160"><rect class="y" x="652" y="919" width="268" height="16"/><text class="l" x="786" y="932">160</text></g>

<g id="gene-161"><rect class="y" x="116" y="966" width="41" height="16"/><text class="l" x="136.5" y="979">161</text></g>
<g id="gene-166"><rect class="u" x="494" y="966" width="85" height="16"/><text class="l" x="536.5" y="979">166</text></g>
<g id="gene-168"><rect class="n" x="644" y="966" width="38" height="16"/><text class="l" x="663" y="979">168</text></g>
<g id="gene-169"><rect class="m" x="686" y="966" width="87" height="16"/><text class="l" x="729.5" y="979">169</text></g>
<g id="gene-162"><rect class="u" x="157" y="986" width="50" height="16"/><text class="l" x="182" y="999">162</text></g>
<g id="gene-163"><rect class="u" x="210" y="986" width="57" height="16"/><text class="l" x="238.5" y="999">163</text></g>
<g id="gene-164"><rect class="u" x="276" y="986" width="153" height="16"/><text class="l" x="352.5" y="999">164</text></g>
<g id="gene-165"><rect class="u" x="440" y="986" width="23" height="16"/><text class="l" x="451.5" y="999">16</text></g>
<g id="gene-167"><rect class="u" x="579" y="986" width="60" height="16"/><text class="l" x="609" y="999">167</text></g>

<g id="gene-171a"><rect class="u" x="876" y="1038" width="94" height="16"/><text class="l" x="923" y="1051">171</text></g>
<g id="gene-170"><rect class="n" x="112" y="1058" width="87" height="16"/><text class="l" x="155.5" y="1071">170</text></g>

<g id="gene-171b"><rect class="u" x="14" y="1103" width="183" height="16"/><text class="l" x="105.5" y="1116">171</text></g>
<g id="gene-173"><rect class="g" x="430" y="1103" width="82" height="16"/><text class="l" x="471" y="1116">173</text></g>
<g id="gene-174"><rect class="u" x="514" y="1103" width="27" height="16"/><text class="l" x="527.5" y="1116">174</text></g>
<g id="gene-175"><rect class="u" x="623" y="1103" width="80" height="16"/><text class="l" x="663" y="1116">175</text></g>
<g id="gene-176"><rect class="g" x="710" y="1103" width="58" height="16"/><text class="l" x="739" y="1116">176</text></g>
<g id="gene-178"><rect class="u" x="827" y="1103" width="142" height="16"/><text class="l" x="898" y="1116">178</text></g>
<g id="gene-172"><rect class="g" x="225" y="1123" width="179" height="16"/><text class="l" x="314.5" y="1136">172</text></g>
<g id="gene-177"><rect class="u" x="802" y="1123" width="17" height="16"/><text class="ls" x="824" y="1134">177</text></g>

<g id="gene-178b"><rect class="u" x="14" y="1175" width="17" height="16"/></g>
<g id="gene-180"><rect class="n" x="114" y="1175" width="170" height="16"/><text class="l" x="199" y="1188">180</text></g>
<g id="gene-182"><rect class="n" x="517" y="1175" width="73" height="16"/><text class="l" x="553.5" y="1188">182</text></g>
<g id="gene-183"><rect class="u" x="597" y="1175" width="31" height="16"/><text class="l" x="612.5" y="1188">183</text></g>
<g id="gene-184"><rect class="u" x="631" y="1175" width="57" height="16"/><text class="l" x="659.5" y="1188">184</text></g>
<g id="gene-185"><rect class="m" x="696" y="1175" width="57" height="16"/><text class="l" x="724.5" y="1188">185</text></g>
<g id="gene-186"><rect class="t" x="753" y="1175" width="150" height="16"/><text class="l" x="828" y="1188">186</text></g>
<g id="gene-187a"><rect class="n" x="923" y="1175" width="46" height="16"/><text class="l" x="946" y="1188">187</text></g>
<g id="gene-179"><rect class="u" x="55" y="1195" width="51" height="16"/><text class="l" x="80.5" y="1208">179</text></g>
<g id="gene-181"><rect class="t" x="307" y="1195" width="205" height="16"/><text class="l" x="409.5" y="1208">181</text></g>

<g id="gene-187b"><rect class="n" x="14" y="1235" width="28" height="16"/><text class="l" x="28" y="1248">187</text></g>
<g id="gene-188"><rect class="u" x="44" y="1235" width="95" height="16"/><text class="l" x="91.5" y="1248">188</text></g>
<g id="gene-189"><rect class="u" x="142" y="1235" width="63" height="16"/><text class="l" x="173.5" y="1248">189</text></g>
<g id="gene-190"><rect class="u" x="215" y="1235" width="39" height="16"/><text class="l" x="234.5" y="1248">190</text></g>
<g id="gene-196"><rect class="u" x="757" y="1235" width="17" height="16"/><text class="ls" x="777" y="1248">196</text></g>
<g id="gene-197"><rect class="n" x="809" y="1235" width="99" height="16"/><text class="l" x="858.5" y="1248">197</text></g>
<g id="gene-191"><rect class="u" x="250" y="1255" width="105" height="16"/><text class="l" x="302.5" y="1268">191</text></g>
<g id="gene-192"><rect class="u" x="386" y="1255" width="204" height="16"/><text class="l" x="488" y="1268">192</text></g>
<g id="gene-193"><rect class="u" x="620" y="1255" width="16" height="16"/><text class="ls" x="637" y="1268">193</text></g>
<g id="gene-194"><rect class="u" x="659" y="1255" width="32" height="16"/><text class="l" x="675" y="1268">194</text></g>
<g id="gene-195"><rect class="u" x="725" y="1255" width="33" height="16"/><text class="l" x="741.5" y="1268">195</text></g>
<g id="gene-198a"><rect class="u" x="905" y="1255" width="64" height="16"/><text class="l" x="937" y="1268">198</text></g>

<g id="gene-199"><rect class="g" x="168" y="1304" width="93" height="16"/><text class="l" x="214.5" y="1317">199</text></g>
<g id="gene-200"><rect class="u" x="263" y="1304" width="59" height="16"/><text class="l" x="292.5" y="1317">200</text></g>
<g id="gene-201"><rect class="u" x="449" y="1304" width="15" height="16"/><text class="le" x="446" y="1317">201</text></g>
<g id="gene-202"><rect class="u" x="464" y="1304" width="17" height="16"/><text class="ls" x="486" y="1317">202</text></g>
<g id="gene-205"><rect class="u" x="877" y="1304" width="48" height="16"/><text class="l" x="901" y="1317">205</text></g>
<g id="gene-206"><rect class="u" x="931" y="1304" width="34" height="16"/><text class="l" x="948" y="1317">206</text></g>
<g id="gene-198b"><rect class="u" x="14" y="1324" width="131" height="16"/><text class="l" x="79.5" y="1337">198</text></g>
<g id="gene-203"><rect class="u" x="573" y="1324" width="22" height="16"/><text class="l" x="584" y="1337">20</text></g>
<g id="gene-204"><rect class="u" x="610" y="1324" width="100" height="16"/><text class="l" x="660" y="1337">204</text></g>

<g id="gene-207"><rect class="u" x="525" y="1378" width="46" height="16"/><text class="l" x="548" y="1391">207</text></g>
<g id="gene-208"><rect class="u" x="594" y="1378" width="77" height="16"/><text class="l" x="632.5" y="1391">208</text></g>
<g id="gene-210"><rect class="u" x="779" y="1378" width="116" height="16"/><text class="l" x="837" y="1391">210</text></g>
<g id="gene-211a"><rect class="u" x="925" y="1378" width="45" height="16"/><text class="l" x="947.5" y="1391">211</text></g>
<g id="gene-209"><rect class="u" x="682" y="1398" width="90" height="16"/><text class="l" x="727" y="1411">209</text></g>

<g id="gene-211b"><rect class="u" x="14" y="1436" width="69" height="16"/><text class="l" x="48.5" y="1449">211</text></g>
<g id="gene-213"><rect class="n" x="125" y="1436" width="175" height="16"/><text class="l" x="212.5" y="1449">213</text></g>
<g id="gene-215"><rect class="u" x="937" y="1438" width="18" height="14"/><text class="le" x="934" y="1447">215</text></g>
<g id="gene-212"><rect class="u" x="88" y="1456" width="21" height="16"/><text class="ls" x="113" y="1467">212</text></g>
<g id="gene-214"><rect class="u" x="740" y="1456" width="21" height="16"/><text class="ls" x="765" y="1467">214</text></g>

<g id="gene-217"><rect class="u" x="137" y="1512" width="55" height="16"/><text class="l" x="164.5" y="1525">217</text></g>
<g id="gene-218"><rect class="u" x="202" y="1512" width="63" height="16"/><text class="l" x="233.5" y="1525">218</text></g>
<g id="gene-219"><rect class="u" x="368" y="1512" width="19" height="16"/><text class="le" x="365" y="1525">219</text></g>
<g id="gene-220"><rect class="u" x="464" y="1512" width="21" height="16"/><text class="le" x="460" y="1525">220</text></g>
<g id="gene-221"><rect class="u" x="490" y="1512" width="17" height="16"/><text class="ls" x="518" y="1525">221</text></g>
<g id="gene-224"><rect class="n" x="740" y="1512" width="72" height="16"/><text class="l" x="776" y="1525">224</text></g>
<g id="gene-225"><rect class="u" x="815" y="1512" width="20" height="16"/><text class="ls" x="841" y="1525">225</text></g>
<g id="gene-216"><rect class="u" x="62" y="1532" width="55" height="16"/><text class="l" x="89.5" y="1545">216</text></g>
<g id="gene-222"><rect class="u" x="515" y="1532" width="154" height="16"/><text class="l" x="592" y="1545">222</text></g>
<g id="gene-223"><rect class="m" x="709" y="1532" width="27" height="16"/><text class="l" x="722.5" y="1545">223</text></g>

<g id="gene-226"><rect class="p" x="77" y="1585" width="148" height="16"/><text class="l" x="151" y="1598">226 (gp1)</text></g>
<g id="gene-227"><rect class="u" x="256" y="1585" width="47" height="16"/><text class="l" x="279.5" y="1598">227</text></g>
<g id="gene-228"><rect class="u" x="303" y="1585" width="19" height="16"/><text class="ls" x="333" y="1598">228</text></g>
<g id="gene-230"><rect class="u" x="414" y="1585" width="18" height="16"/><text class="ls" x="437" y="1598">230</text></g>
<g id="gene-229"><rect class="u" x="335" y="1605" width="55" height="16"/><text class="l" x="362.5" y="1618">229</text></g>
<g id="gene-231"><rect class="u" x="561" y="1605" width="86" height="16"/><text class="l" x="604" y="1618">231</text></g>
</g>

<g id="key">
<path d="M99,1658 H26 V1765 H976 V1658 H162" fill="none" stroke="#222" stroke-width="2"/>
<text x="101" y="1669" style="font-size:30px">Key</text>
<rect class="n" x="46" y="1696" width="27" height="12"/><text class="key" x="89" y="1709" textLength="183" lengthAdjust="spacingAndGlyphs">Nucleic acid metabolism</text>
<rect class="n" x="46" y="1723" width="27" height="12" style="fill:#d9434f"/><text class="key" x="89" y="1736" textLength="81" lengthAdjust="spacingAndGlyphs">Integration</text>
<rect class="p" x="46" y="1749" width="27" height="12"/><text class="key" x="89" y="1762" textLength="201" lengthAdjust="spacingAndGlyphs">Polysaccharide metabolism</text>
<rect class="t" x="310" y="1696" width="28" height="12"/><text class="key" x="354" y="1709" textLength="179" lengthAdjust="spacingAndGlyphs">Two-component system</text>
<rect class="k" x="310" y="1723" width="28" height="12"/><text class="key" x="354" y="1736" textLength="50" lengthAdjust="spacingAndGlyphs">Kinase</text>
<rect class="g" x="310" y="1749" width="28" height="12"/><text class="key" x="354" y="1762" textLength="176" lengthAdjust="spacingAndGlyphs">Protein binding domain</text>
<rect class="y" x="574" y="1696" width="27" height="12"/><text class="key" x="616" y="1709" textLength="209" lengthAdjust="spacingAndGlyphs">Related to genes in PBCV-1</text>
<rect class="m" x="574" y="1723" width="27" height="12"/><text class="key" x="616" y="1736" textLength="107" lengthAdjust="spacingAndGlyphs">Miscellaneous</text>
<polygon class="ar" points="573,1749 588,1749 588,1738 600,1753 588,1767 588,1757 573,1757"/><text class="key" x="616" y="1762" textLength="95" lengthAdjust="spacingAndGlyphs">DNA repeats</text>
<rect class="s" x="838" y="1696" width="28" height="12"/><text class="key" x="881" y="1709" textLength="66" lengthAdjust="spacingAndGlyphs">Structure</text>
<rect class="u" x="838" y="1723" width="28" height="12"/><text class="key" x="881" y="1736" textLength="71" lengthAdjust="spacingAndGlyphs">Unknown</text>
</g>
</svg>
